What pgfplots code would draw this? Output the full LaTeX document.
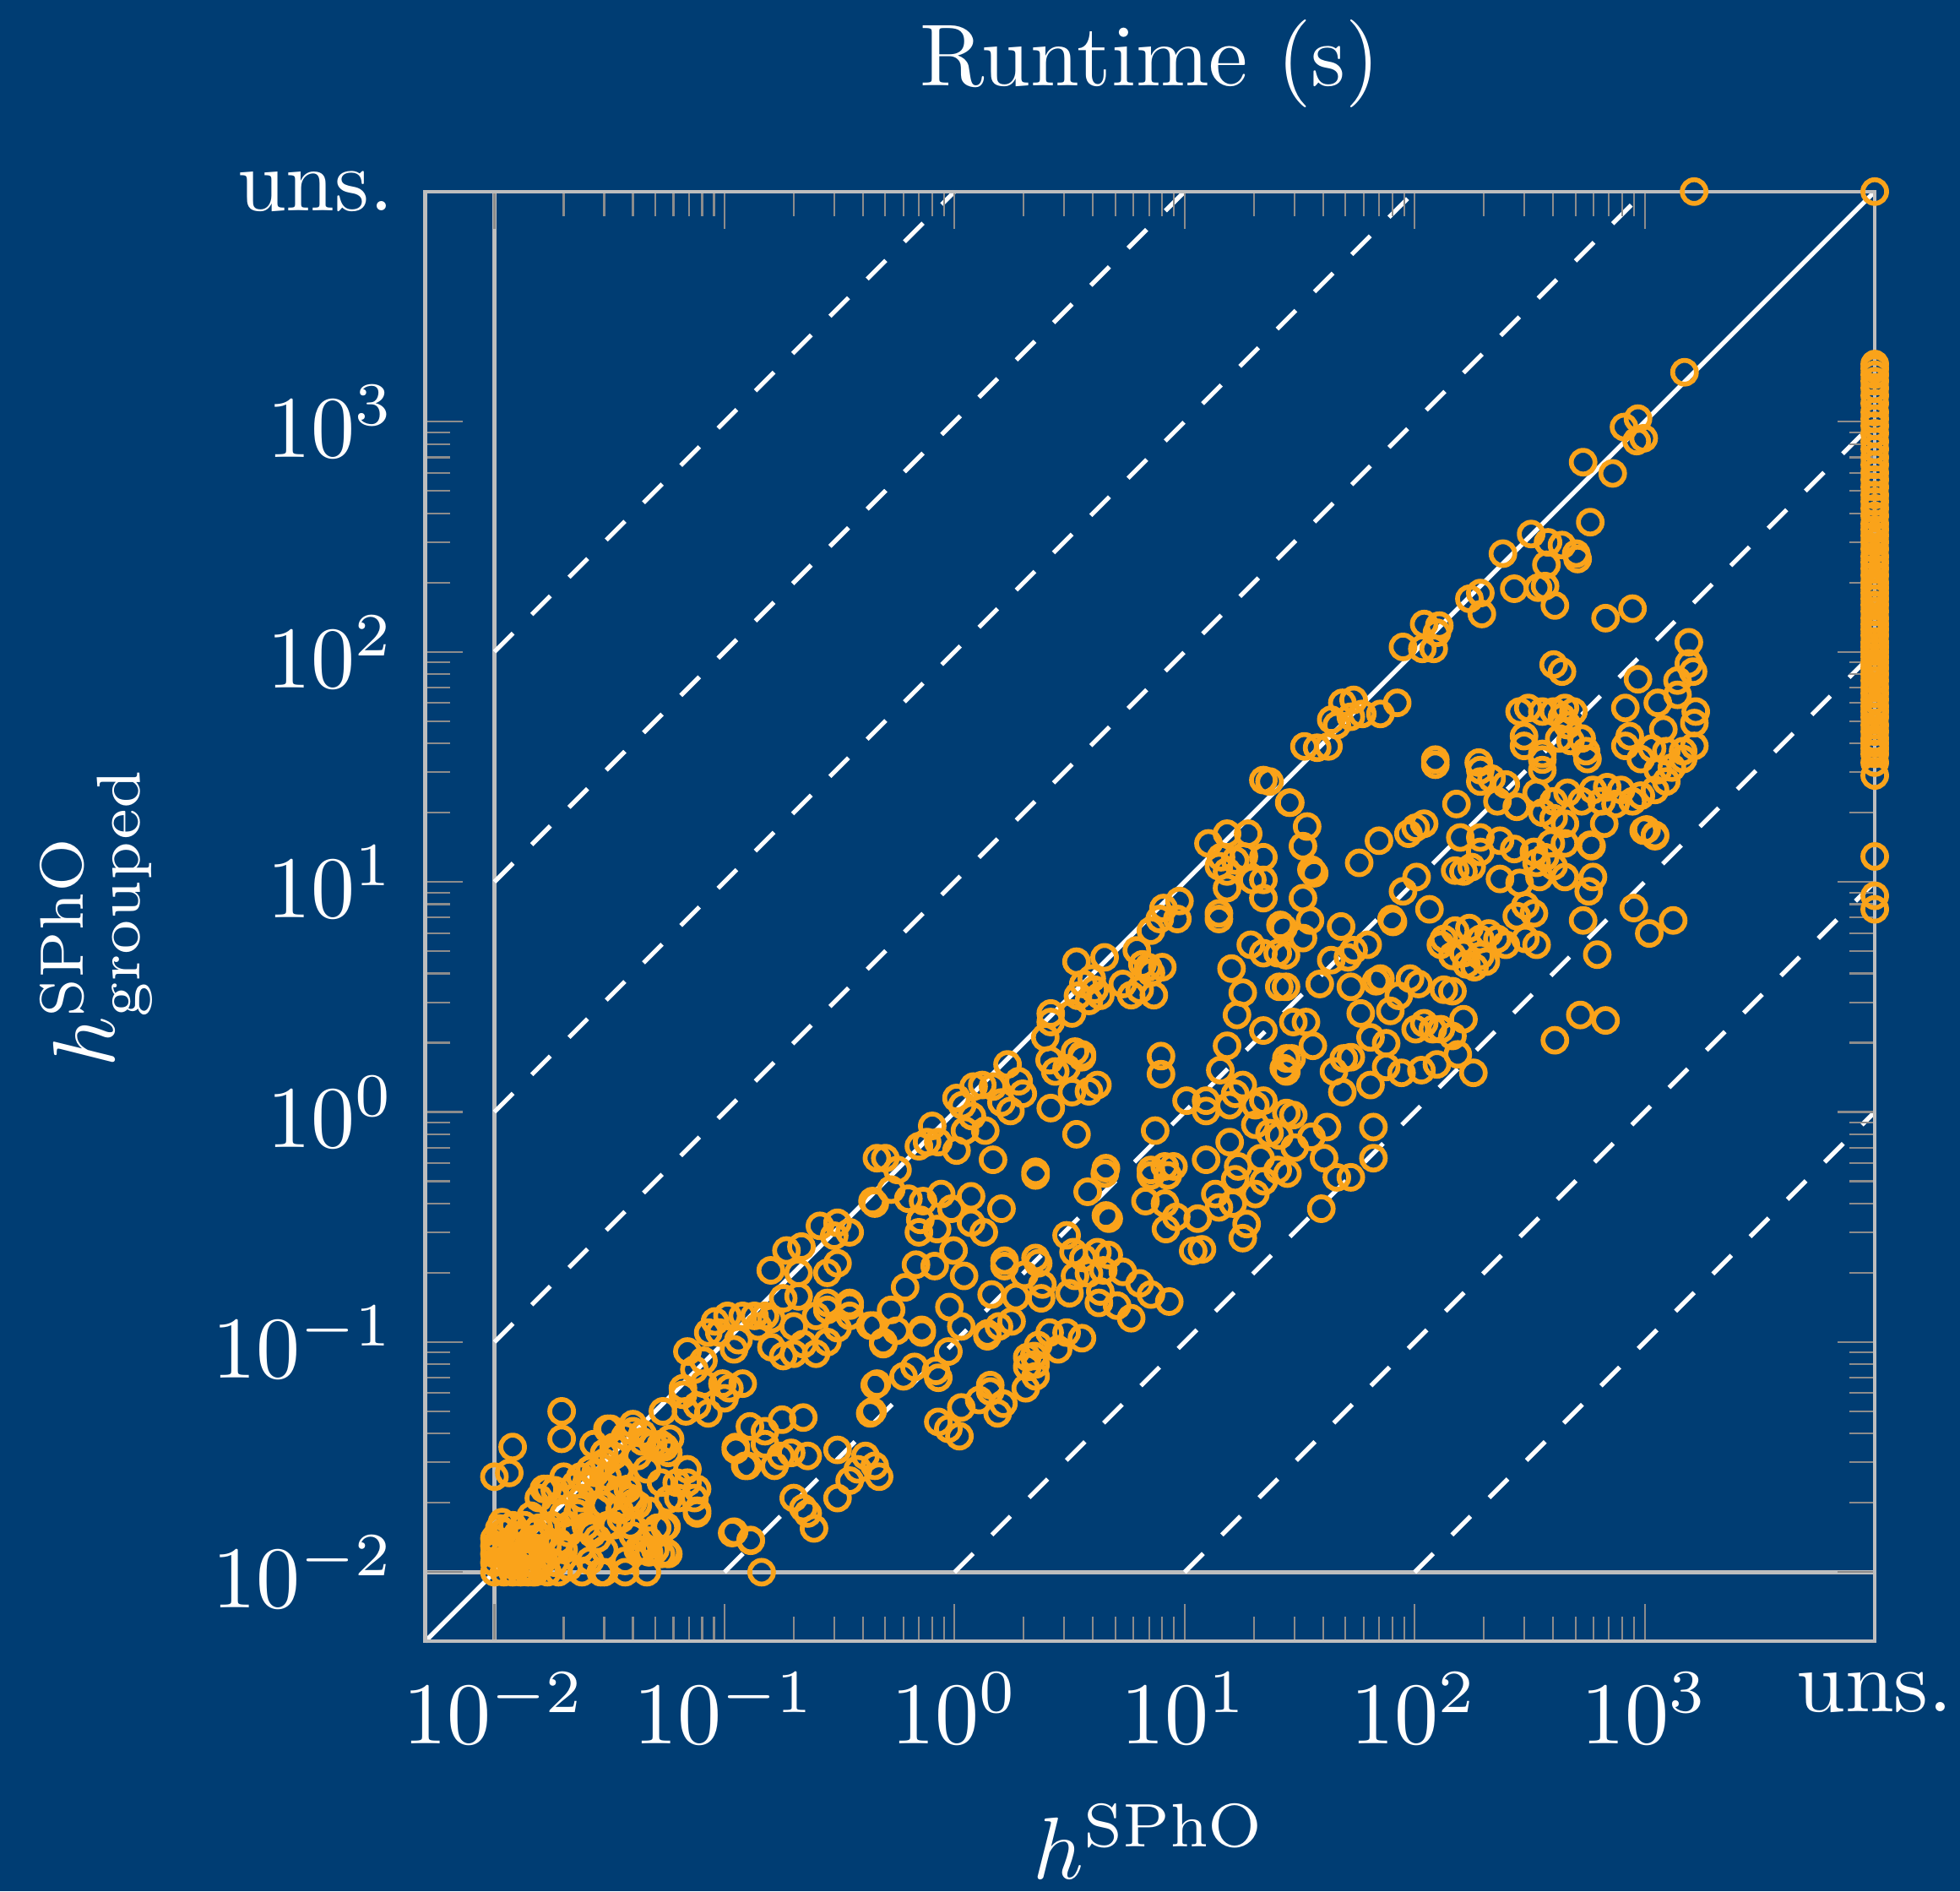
\documentclass[border=0pt]{standalone}
\usepackage{pgfplots}
\pgfplotsset{compat=1.18}
\usetikzlibrary{backgrounds}
\definecolor{aublue}{RGB}{0,61,115}
\definecolor{auorange}{RGB}{250,163,26}
\definecolor{framegray}{RGB}{190,190,190}
\definecolor{tickgray}{RGB}{140,140,140}
\pagecolor{aublue}

\begin{document}
\begin{tikzpicture}
\begin{axis}[
  at={(0,0)}, anchor=south west,
  width=165pt, height=165pt, scale only axis,
  xmode=log, ymode=log,
  xmin=0.005, xmax=10000, ymin=0.005, ymax=10000,
  xtick={0.01,0.1,1,10,100,1000,10000},
  ytick={0.01,0.1,1,10,100,1000,10000},
  xticklabels={$10^{-2}$,$10^{-1}$,$10^{0}$,$10^{1}$,$10^{2}$,$10^{3}$,uns.},
  yticklabels={$10^{-2}$,$10^{-1}$,$10^{0}$,$10^{1}$,$10^{2}$,$10^{3}$,uns.},
  minor xtick={0.02,0.03,0.04,0.05,0.06,0.07,0.08,0.09,0.2,0.3,0.4,0.5,0.6,0.7,0.8,0.9,2,3,4,5,6,7,8,9,20,30,40,50,60,70,80,90,200,300,400,500,600,700,800,900},
  minor ytick={0.02,0.03,0.04,0.05,0.06,0.07,0.08,0.09,0.2,0.3,0.4,0.5,0.6,0.7,0.8,0.9,2,3,4,5,6,7,8,9,20,30,40,50,60,70,80,90,200,300,400,500,600,700,800,900},
  axis line style={framegray},
  tick style={tickgray},
  tick label style={text=white},
  label style={text=white},
  title style={at={(0.5,1)},anchor=base,yshift=6pt,text=white},
  title={Runtime (s)},
  xlabel={$h^{\mathrm{SPhO}}$},
  ylabel={$h^{\mathrm{SPhO}}_{\mathrm{grouped}}$},
  clip=false,
  axis on top,
]
% solved by both
\addplot[only marks, mark=o, mark size=1.35pt, mark options={auorange, line width=0.55pt}] coordinates {
(0.0196,0.050) (0.0196,0.038) (0.012,0.035) (0.010,0.026) (0.0116,0.027) (0.0144,0.0176)
(0.010,0.010) (0.010,0.011) (0.010,0.012) (0.010,0.013) (0.010,0.014) (0.011,0.010) (0.011,0.011)
(0.011,0.012) (0.011,0.015) (0.012,0.010) (0.012,0.011) (0.012,0.013) (0.012,0.016) (0.013,0.010)
(0.013,0.012) (0.013,0.014) (0.014,0.010) (0.014,0.011) (0.014,0.013) (0.015,0.010) (0.015,0.012)
(0.015,0.015) (0.016,0.011) (0.016,0.014) (0.017,0.010) (0.017,0.013) (0.0105,0.0155) (0.0108,0.0165)
(0.0125,0.0145) (0.0135,0.016) (0.0102,0.0125) (0.0118,0.0108) (0.0128,0.0118) (0.0155,0.0105) (0.0148,0.0128)
(0.0147,0.010) (0.024,0.010) (0.029,0.010) (0.037,0.010) (0.046,0.010) (0.145,0.010) (0.019,0.010) (0.021,0.0105)
(0.031,0.042) (0.040,0.041) (0.044,0.040) (0.049,0.036) (0.055,0.035) (0.058,0.038)
(0.069,0.028) (0.076,0.023) (0.076,0.018) (0.056,0.0158) (0.056,0.0122) (0.050,0.0125) (0.047,0.0122)
(0.047,0.0137) (0.042,0.0125) (0.037,0.0112) (0.030,0.010)
(0.108,0.0148) (0.13,0.0137) (0.112,0.034) (0.126,0.029) (0.129,0.043)
(0.037,0.039) (0.030,0.033) (0.026,0.028) (0.0236,0.026) (0.0183,0.0227) (0.0164,0.023) (0.0224,0.024)
(0.026,0.024) (0.031,0.026) (0.035,0.028) (0.035,0.0227) (0.030,0.0196) (0.0236,0.019) (0.020,0.018)
(0.0178,0.016) (0.0164,0.014) (0.021,0.0148) (0.025,0.0158) (0.028,0.014) (0.033,0.016) (0.035,0.0186)
(0.039,0.021) (0.0236,0.0125) (0.020,0.0125) (0.0183,0.011) (0.021,0.0106) (0.026,0.0112) (0.030,0.0125)
(0.039,0.016) (0.042,0.0196) (0.027,0.036) (0.033,0.035) (0.030,0.030)
(0.020,0.026) (0.017,0.023) (0.0156,0.021) (0.0185,0.019) (0.024,0.021) (0.0275,0.027) (0.026,0.0245)
(0.033,0.032) (0.035,0.027) (0.0316,0.023) (0.038,0.023) (0.040,0.020) (0.0355,0.017) (0.031,0.016)
(0.0266,0.0147) (0.024,0.0128) (0.019,0.0135) (0.021,0.016) (0.0156,0.0156) (0.028,0.019) (0.023,0.018)
(0.040,0.0144) (0.044,0.0125) (0.053,0.012) (0.057,0.012) (0.051,0.0156) (0.055,0.0156) (0.047,0.0185)
(0.057,0.0207) (0.063,0.021) (0.062,0.0245) (0.069,0.0245) (0.074,0.021) (0.076,0.0185) (0.053,0.0245)
(0.046,0.028) (0.042,0.032)
(0.032,0.042) (0.040,0.044) (0.044,0.037) (0.053,0.036) (0.057,0.033)
(0.054,0.050) (0.068,0.050) (0.066,0.063) (0.066,0.059) (0.076,0.053) (0.085,0.049)
(0.098,0.066) (0.10,0.057) (0.105,0.063) (0.12,0.066)
(0.069,0.091) (0.081,0.083) (0.074,0.076) (0.081,0.066)
(0.091,0.123) (0.095,0.11) (0.115,0.102) (0.11,0.093) (0.085,0.11)
(0.103,0.13) (0.12,0.13) (0.135,0.13) (0.15,0.13) (0.18,0.155)
(0.14,0.117) (0.16,0.095) (0.18,0.087) (0.20,0.089) (0.22,0.098) (0.25,0.089) (0.28,0.10) (0.31,0.115)
(0.35,0.13) (0.35,0.144) (0.28,0.138) (0.25,0.13) (0.16,0.126) (0.20,0.117) (0.28,0.148) (0.35,0.148)
(0.186,0.25) (0.216,0.26) (0.21,0.20) (0.159,0.205) (0.31,0.22) (0.28,0.20) (0.21,0.158)
(0.26,0.32) (0.31,0.33) (0.35,0.30) (0.30,0.29)
(0.43,0.118) (0.49,0.10) (0.45,0.065) (0.43,0.049) (0.44,0.41)
(0.15,0.036) (0.15,0.041) (0.178,0.046) (0.22,0.047) (0.112,0.035) (0.123,0.029)
(0.176,0.032) (0.195,0.033) (0.23,0.032) (0.165,0.029)
(0.31,0.034) (0.31,0.021) (0.35,0.025) (0.38,0.028) (0.41,0.032) (0.47,0.026) (0.45,0.029)
(0.20,0.021) (0.22,0.019) (0.23,0.018) (0.245,0.0155) (0.11,0.015) (0.13,0.0138)
(0.45,0.40) (0.53,0.46) (0.63,0.42) (0.73,0.41) (0.875,0.44) (0.97,0.38) (1.18,0.43) (1.60,0.38)
(0.71,0.34) (0.84,0.31) (0.70,0.30) (1.18,0.33) (1.34,0.30) (0.99,0.25)
(0.68,0.217) (0.82,0.214) (0.61,0.173) (1.10,0.194) (0.53,0.138) (0.445,0.118) (0.56,0.112) (0.49,0.098)
(0.72,0.110) (0.72,0.113) (0.95,0.142) (1.07,0.117) (0.94,0.091) (0.83,0.075) (0.85,0.070) (0.67,0.078)
(0.60,0.071) (0.46,0.066) (0.44,0.050)
(1.65,0.226) (1.65,0.214) (2.25,0.232) (2.31,0.22) (2.01,0.196) (2.41,0.178) (2.38,0.155) (1.85,0.157) (1.45,0.161)
(1.77,0.123) (1.56,0.117) (1.39,0.109) (1.39,0.106)
(1.43,0.065) (1.43,0.061) (1.28,0.056) (1.07,0.052) (0.85,0.045) (0.94,0.042) (1.05,0.039) (1.63,0.054) (1.54,0.049)
(2.59,0.110) (3.07,0.110) (3.58,0.104) (2.31,0.097) (2.82,0.093) (2.07,0.086) (2.25,0.080) (2.07,0.078)
(2.25,0.071) (2.04,0.063) (2.22,0.087)
(3.07,0.291) (3.29,0.246) (3.63,0.232) (4.18,0.246) (4.68,0.239) (5.39,0.202) (6.38,0.180) (7.14,0.161)
(8.58,0.150) (3.16,0.163) (4.24,0.148) (5.09,0.144) (5.86,0.127) (3.34,0.194) (3.84,0.199) (4.43,0.205) (4.30,0.166)
(3.79,0.45) (4.55,0.355) (4.68,0.344) (2.25,0.53) (4.5,0.54)
(6.76,0.41) (8.22,0.40) (9.2,0.35) (8.3,0.31) (11.4,0.344) (10.9,0.249) (11.9,0.253) (13.6,0.44) (14.1,0.385)
(16.2,0.40) (18.6,0.326) (17.9,0.283) (20.3,0.44) (22.1,0.50) (16.6,0.51) (7.14,0.53) (8.45,0.53)
(22,27.7) (23.4,27.3) (28.5,22.1)
(12.7,14.7) (15.3,16.2) (18.9,16.2) (14.4,12.8) (16.6,12.4) (22,12.8) (14.1,11.7) (18.1,12.9) (15.3,11.1)
(19.7,10.2) (22,10.2) (15.3,9.4) (22,8.5) (14.1,6.9) (14.1,7.3)
(9.5,8.26) (8.1,7.7) (9.3,6.9) (7.14,6.14) (7.8,6.9) (6.2,5.04) (6.95,4.26) (8.0,4.26) (6.56,4.38) (7.14,4.03)
(7.35,3.22) (5.86,3.22) (5.39,3.6) (6.38,3.4)
(3.39,4.5) (4.49,4.7) (3.95,3.8) (3.63,3.6) (4.06,3.4) (3.44,3.2) (3.84,3.04) (4.30,3.2)
(2.62,2.68) (3.24,2.68) (2.62,2.46) (2.48,2.11)
(1.70,1.61) (1.90,1.36) (1.98,1.20) (1.75,1.01) (1.60,1.10) (1.47,1.29) (1.32,1.31)
(1.02,1.15) (1.21,1.29) (1.08,1.07) (1.19,0.96) (1.36,0.83) (1.11,0.83) (1.02,0.68) (0.80,0.87) (0.76,0.74)
(0.85,0.74) (0.70,0.71) (0.50,0.63) (0.565,0.56) (0.46,0.63)
(2.59,1.68) (2.74,1.50) (3.07,1.55) (3.34,1.83) (3.58,1.73) (3.58,1.78) (3.24,1.22) (3.84,1.23) (4.18,1.31)
(2.62,1.04) (3.39,0.80) (1.47,0.62) (2.25,0.55) (4.55,0.57)
(7.9,1.75) (7.9,1.46) (7.45,0.83) (7.14,0.56) (8.2,0.58) (8.95,0.58)
(16.0,4.2) (17.9,3.3) (16.9,2.64) (22,2.26) (15.3,1.94) (14.3,1.52) (19.4,5.33) (22,4.9) (25.4,4.9) (26.1,6.5)
(25.8,3.5) (27.7,1.71) (27.7,1.50) (10.2,1.12) (12.4,1.12) (12.4,1.01) (16.6,1.20) (17.9,1.31) (15.7,1.07)
(20.3,1.07) (22,1.12) (20.3,0.88) (23.4,0.81) (25.8,0.79) (27.7,0.99) (15.7,0.74) (12.4,0.62) (21.4,0.63)
(17.1,0.58) (25.4,0.56)
(28.8,22.1) (34.1,17.4) (32.7,14.3) (36.6,10.9) (35.6,11.3) (32.7,8.5) (35.1,6.8) (32.7,5.7) (26.9,6.3)
(27.6,4.8) (27.6,3.5)
(70,15.1) (57.4,12.1) (47.9,6.4) (101,17.2) (110,17.9) (94,16.2) (102,10.5) (89,9.1) (116,7.6) (80.5,6.7)
(79.4,6.9) (152,21.8) (123,32.3)
(43.4,4.57) (54.3,5.05) (62.5,5.33) (51.3,4.7) (38.7,3.6) (52.8,3.5) (68,3.7) (71,3.8) (85.3,3.2) (78.4,2.75)
(95.5,3.8) (104,3.6) (134,3.4) (146,3.35) (58.3,2.68) (110,2.43) (120,2.29) (130,2.29) (163,2.53) (146,2.14)
(64.3,2.11) (75.2,1.99) (49.2,1.71) (52.8,1.73) (44.6,1.50) (36.1,1.94) (29.7,2.46) (33.7,2.46) (29.2,1.71)
(27,1.55) (75.2,1.57) (87.7,1.48) (107,1.52) (125,1.61) (154,1.78) (180,1.48) (48.5,1.22) (64.3,1.31) (101,2.29)
(29.7,0.97) (41.6,0.86) (35.6,0.78) (30.1,0.70) (40.4,0.63) (66.2,0.86) (66.2,0.63) (45.9,0.52) (52.8,0.52)
(39.3,0.38) (28,0.54)
(134,5.65) (150,6.14) (173,6.3) (193,5.65) (210,5.97) (229,5.65) (163,4.9) (193,4.77) (182,4.26) (204,4.5)
(249,5.33) (303,5.65) (339,5.33) (130,5.33) (146,4.77) (168,4.38)
(158,15.6) (193,15.6) (235,15.1) (271,13.9) (193,13.5) (150,11.2) (163,11.1) (177,11.6) (235,10.3) (286,9.9)
(303,7.9) (330,7.3) (278,7.1) (339,12.1) (369,12.8) (402,11.7) (349,10.5) (450,10.5) (330,13.5) (391,14.7) (450,14.7)
(193,30.6) (216,28.1) (249,26.5) (229,22.4) (278,21.2) (193,27.3) (339,24.4) (359,20) (402,18.9) (450,17.9)
(402,22.4) (462,24.4) (532,22.4) (596,25.1) (687,25.8) (649,22.4) (747,21.8) (667,17.9) (790,25.1) (885,22.4)
(962,23.7) (1109,25.1) (1241,27.3) (1313,31.4) (1140,30.6) (1019,16.9) (1109,15.8) (580,14.5) (359,30.6)
(564,34.2) (962,34.2) (1469,34.2)
(588,14.3) (596,10.5) (571,9.1) (540,6.8) (622,4.83) (897,7.7) (1047,5.97) (1330,6.8) (990,16.7) (1109,16)
(525,2.64) (676,2.5) (407,2.05)
(1490,1640) (813,948) (935,1031) (923,824) (990,847) (540,667) (726,596) (580,366)
(321,325) (380,299) (437,291) (504,267) (511,253) (374,239) (242,267) (271,188) (344,190) (369,193) (407,159)
(193,180) (173,170) (196,146) (676,140) (885,154)
(110,132) (128,130) (125,121) (89,105) (108,103) (121,103) (402,88) (437,82)
(1556,110) (1556,89) (1623,82) (1389,75) (1389,65) (1140,60) (935,76) (824,57) (1667,55) (1644,49) (1205,46)
(1077,38) (1241,37) (1469,37) (1644,39) (824,39) (861,43)
(286,55) (312,57) (359,55) (402,55) (450,57) (490,55) (437,52) (462,48) (299,43) (299,39) (359,36) (425,42)
(476,41) (532,42) (556,37) (359,34) (123,34) (190,33)
(33.2,38.8) (37.7,38.3) (42.2,38.8) (43.4,50.7) (48.5,60) (54.3,61.8) (52.8,52.2) (59.2,53.7) (71,53.7) (84,60) (45.9,48)
};
% unsolved by one or both
\addplot[only marks, mark=o, mark size=1.35pt, mark options={auorange, line width=0.55pt}] coordinates {
(1640,10000) (10000,10000)
(10000,7.6) (10000,8.7) (10000,12.9) (10000,29) (10000,33) (10000,36) (10000,38) (10000,40) (10000,42)
(10000,45) (10000,48) (10000,52) (10000,55) (10000,58) (10000,62) (10000,66) (10000,70) (10000,75)
(10000,80) (10000,85) (10000,90) (10000,95) (10000,100) (10000,105) (10000,110) (10000,118) (10000,125)
(10000,132) (10000,140) (10000,150) (10000,160) (10000,170) (10000,180) (10000,190) (10000,200) (10000,215)
(10000,230) (10000,245) (10000,260) (10000,280) (10000,300) (10000,320) (10000,340) (10000,360) (10000,390)
(10000,420) (10000,450) (10000,480) (10000,520) (10000,560) (10000,600) (10000,650) (10000,700) (10000,760)
(10000,820) (10000,890) (10000,960) (10000,1030) (10000,1100) (10000,1200) (10000,1300) (10000,1400)
(10000,1500) (10000,1600) (10000,1700) (10000,1780)
};
% 10^-2 guide lines
\addplot[framegray, line width=0.5pt] coordinates {(0.01,0.005) (0.01,10000)};
\addplot[framegray, line width=0.5pt] coordinates {(0.005,0.01) (10000,0.01)};
% ratio lines
\addplot[white, line width=0.5pt] coordinates {(0.005,0.005) (10000,10000)};
\addplot[white, dashed, line width=0.5pt] coordinates {(0.01,0.1) (1000,10000)};
\addplot[white, dashed, line width=0.5pt] coordinates {(0.01,1) (100,10000)};
\addplot[white, dashed, line width=0.5pt] coordinates {(0.01,10) (10,10000)};
\addplot[white, dashed, line width=0.5pt] coordinates {(0.01,100) (1,10000)};
\addplot[white, dashed, line width=0.5pt] coordinates {(0.1,0.01) (10000,1000)};
\addplot[white, dashed, line width=0.5pt] coordinates {(1,0.01) (10000,100)};
\addplot[white, dashed, line width=0.5pt] coordinates {(10,0.01) (10000,10)};
\addplot[white, dashed, line width=0.5pt] coordinates {(100,0.01) (10000,1)};
\end{axis}
\pgfresetboundingbox
\path[use as bounding box] (-48.4pt,-28.45pt) rectangle (174.7pt,186.8pt);
\begin{scope}[on background layer]
\fill[aublue] (-48.4pt,-28.45pt) rectangle (174.7pt,186.8pt);
\end{scope}
\end{tikzpicture}
\end{document}
